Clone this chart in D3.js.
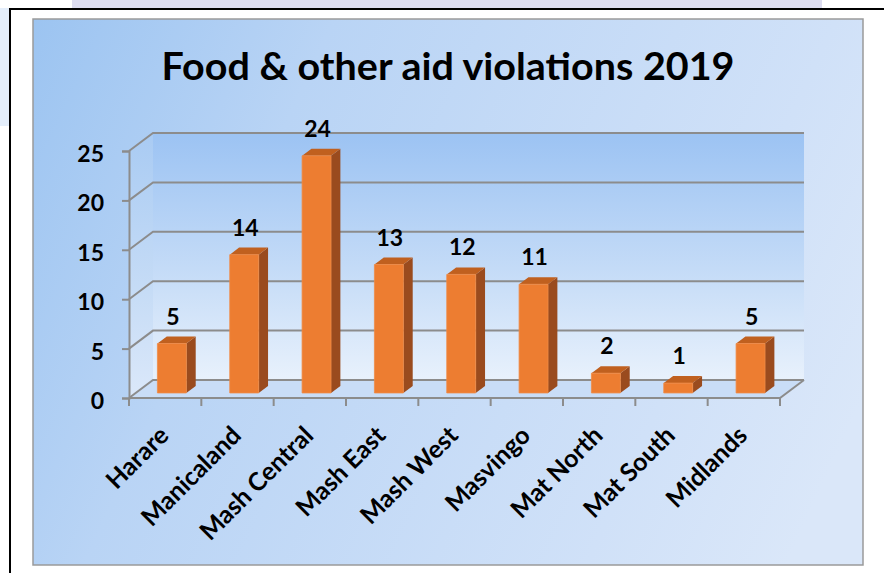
<!DOCTYPE html>
<html>
<head>
<meta charset="utf-8">
<script src="https://cdn.jsdelivr.net/npm/d3@7"></script>
<style>
  html, body { margin: 0; padding: 0; background: #ffffff; }
  svg { display: block; }
  text { font-family: Lato, "Open Sans", sans-serif; font-weight: bold; fill: #000; }
</style>
</head>
<body>
<svg id="chart" width="884" height="573"></svg>
<script>
// ---- data ----
const title = "Food & other aid violations 2019";
const categories = ["Harare", "Manicaland", "Mash Central", "Mash East", "Mash West", "Masvingo", "Mat North", "Mat South", "Midlands"];
const values = [5, 14, 24, 13, 12, 11, 2, 1, 5];
const yTicks = [0, 5, 10, 15, 20, 25];

// ---- layout ----
const W = 884, H = 573;
const box = { x: 33, y: 19, w: 830, h: 546 };
const depth = { dx: 24, dy: -18 };   // 3D depth offset of the plot
const barDepth = [0.28, 0.67];        // bar position within depth
const barFrac = 0.40;                 // bar width as fraction of band

const svg = d3.select("#chart");
const defs = svg.append("defs");

function lin(id, x1, y1, x2, y2, stops, units) {
  const g = defs.append("linearGradient").attr("id", id)
    .attr("x1", x1).attr("y1", y1).attr("x2", x2).attr("y2", y2);
  if (units) g.attr("gradientUnits", units);
  stops.forEach(s => g.append("stop").attr("offset", s[0]).attr("stop-color", s[1]));
}
lin("boxGrad", box.x, box.y, box.x + box.w, box.y + 380,
  [[0, "#9cc4f1"], [0.3, "#b9d4f5"], [0.8, "#d0e1f8"], [1, "#dae7f9"]], "userSpaceOnUse");
lin("wallGrad", 0, 0, 0, 1, [[0, "#9cc3f3"], [0.55, "#c4dbf7"], [1, "#e8f1fc"]]);
lin("sideGrad", 0, 0, 0, 1, [[0, "#a9cbf3"], [0.6, "#c6dcf6"], [1, "#dbe8fa"]]);

// ---- page background bits ----
svg.append("rect").attr("x", 0).attr("y", 0).attr("width", W).attr("height", H).attr("fill", "#ffffff");
svg.append("rect").attr("x", 72).attr("y", 0).attr("width", 750).attr("height", 8).attr("fill", "#dcdcf0");
svg.append("rect").attr("x", 0).attr("y", 8).attr("width", 9).attr("height", 118).attr("fill", "#e4eefb");
// black frame
svg.append("path").attr("d", `M${W},9 L10,9 L10,${H}`)
  .attr("fill", "none").attr("stroke", "#000").attr("stroke-width", 2);

// chart area
svg.append("rect").attr("x", box.x).attr("y", box.y).attr("width", box.w).attr("height", box.h)
  .attr("fill", "url(#boxGrad)").attr("stroke", "#9a9a9a").attr("stroke-width", 1.5);

// title
svg.append("text").attr("x", box.x + box.w / 2).attr("y", 80)
  .attr("text-anchor", "middle").style("font-size", "38px")
  .attr("textLength", 573).attr("lengthAdjust", "spacingAndGlyphs").text(title);

// ---- scales ----
const x = d3.scaleBand().domain(categories).range([129, 780]).paddingInner(0).paddingOuter(0);
const y = d3.scaleLinear().domain([0, 25]).range([398, 151]);
const bw = x.bandwidth();
const x0 = x.range()[0], x1 = x.range()[1];
const yTop = y(d3.max(yTicks)), yBot = y(0);
const P = (px, py, d) => [px + depth.dx * d, py + depth.dy * d];
const poly = pts => "M" + pts.map(p => p.join(",")).join("L") + "Z";

const plot = svg.append("g");

// back wall
plot.append("path").attr("d", poly([P(x0, yTop, 1), P(x1, yTop, 1), P(x1, yBot, 1), P(x0, yBot, 1)]))
  .attr("fill", "url(#wallGrad)");
// side wall
plot.append("path").attr("d", poly([[x0, yTop], P(x0, yTop, 1), P(x0, yBot, 1), [x0, yBot]]))
  .attr("fill", "url(#sideGrad)");
// floor
plot.append("path").attr("d", poly([[x0, yBot], [x1, yBot], P(x1, yBot, 1), P(x0, yBot, 1)]))
  .attr("fill", "#c9ddf7");

const gridColor = "#8c8c8c";
// gridlines (back + side)
yTicks.forEach(t => {
  const a = [x0, y(t)], b = P(x0, y(t), 1), c = P(x1, y(t), 1);
  plot.append("path").attr("d", `M${a}L${b}L${c}`)
    .attr("fill", "none").attr("stroke", gridColor).attr("stroke-width", 2);
});
// floor front edge and right edge
plot.append("path").attr("d", `M${[x0, yBot]}L${[x1, yBot]}L${P(x1, yBot, 1)}`)
  .attr("fill", "none").attr("stroke", gridColor).attr("stroke-width", 2);

// y axis
const yAxis = d3.axisLeft(y).tickValues(yTicks).tickSize(7).tickPadding(18);
const gy = svg.append("g").attr("transform", `translate(${x0},0)`).call(yAxis);
gy.select(".domain").attr("stroke", gridColor).attr("stroke-width", 2);
gy.selectAll(".tick line").attr("stroke", gridColor).attr("stroke-width", 2);
gy.selectAll(".tick text").attr("dy", null).attr("y", 10.5)
  .style("font-size", "23px").style("font-family", "Lato, sans-serif").attr("fill", "#000");

// x axis ticks (category boundaries)
const boundaries = d3.range(categories.length + 1).map(i => x0 + i * bw);
svg.append("g").selectAll("line").data(boundaries).join("line")
  .attr("x1", d => d).attr("x2", d => d).attr("y1", yBot).attr("y2", yBot + 8)
  .attr("stroke", gridColor).attr("stroke-width", 2);

// category labels
svg.append("g").selectAll("text").data(categories).join("text")
  .attr("transform", d => `translate(${x(d) + bw / 2 + 5},437) rotate(-45)`)
  .attr("text-anchor", "end").style("font-size", "25px").text(d => d);

// ---- bars ----
const data = categories.map((c, i) => ({ c, v: values[i] }));
const bars = plot.append("g").selectAll("g").data(data).join("g");
bars.each(function (d) {
  const g = d3.select(this);
  const cx = x(d.c) + bw / 2;
  const half = bw * barFrac / 2;
  const L = cx - half, R = cx + half;
  const d0 = barDepth[0], d1 = barDepth[1];
  const top = y(d.v), bot = y(0);
  // side face
  g.append("path").attr("d", poly([P(R, top, d0), P(R, top, d1), P(R, bot, d1), P(R, bot, d0)]))
    .attr("fill", "#9a4b1e");
  // top face
  g.append("path").attr("d", poly([P(L, top, d0), P(R, top, d0), P(R, top, d1), P(L, top, d1)]))
    .attr("fill", "#c0601f");
  // front face
  g.append("path").attr("d", poly([P(L, top, d0), P(R, top, d0), P(R, bot, d0), P(L, bot, d0)]))
    .attr("fill", "#ed7d31").attr("stroke", "#f08a45").attr("stroke-width", 0.8);
  // value label
  const lp = P(cx, top, d0);
  g.append("text").attr("x", lp[0] + 1).attr("y", lp[1] - 19)
    .attr("text-anchor", "middle").style("font-size", "23px").text(d.v);
});
</script>
</body>
</html>
